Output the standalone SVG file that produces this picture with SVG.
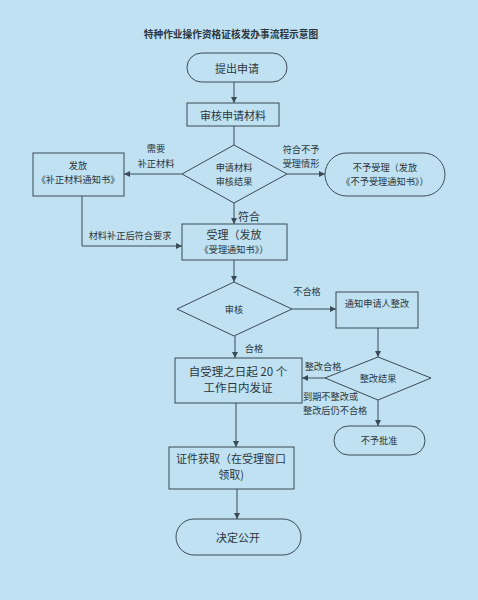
<svg xmlns="http://www.w3.org/2000/svg" width="478" height="600" viewBox="0 0 478 600">
<defs>
<marker id="ah" viewBox="0 0 10 10" refX="10" refY="5" markerWidth="6" markerHeight="6" orient="auto" markerUnits="userSpaceOnUse">
<path d="M0,0 L10,5 L0,10 z" fill="#3a4a56"/>
</marker>
</defs>
<style>
text{font-family:"Noto Sans CJK SC","Noto Sans",sans-serif;fill:#2b3640;text-anchor:middle;dominant-baseline:central}
.s{font-size:9.2px}
.m{font-size:11px}
.l{font-size:11.5px}
.t{font-size:9.7px;font-weight:bold}
.shape{fill:none;stroke:#3a4a56;stroke-width:1}
.c{fill:none;stroke:#3a4a56;stroke-width:1;marker-end:url(#ah)}
.c0{fill:none;stroke:#3a4a56;stroke-width:1}
.left{text-anchor:start}
</style>
<rect width="478" height="600" fill="#bfe1f1"/>
<text class="t" x="231" y="34">特种作业操作资格证核发办事流程示意图</text>

<g id="connectors">
<path class="c" d="M234,82 V103"/>
<path class="c0" d="M234,126 V145"/>
<path class="c" d="M182,174 H124"/>
<path class="c" d="M287,174 H325"/>
<path class="c" d="M234,203 V224"/>
<path class="c0" d="M82,196 V246"/>
<path class="c" d="M82,246 H182"/>
<path class="c" d="M234,260 V282"/>
<path class="c" d="M292,309 H336"/>
<path class="c" d="M235,336 V358"/>
<path class="c" d="M378,328 V357"/>
<path class="c" d="M325,378 H302"/>
<path class="c" d="M378,400 V426"/>
<path class="c" d="M236,403 V447"/>
<path class="c" d="M237,489 V519"/>
</g>

<g id="labels">
<text class="s" x="156" y="148">需要</text>
<text class="s" x="156" y="163">补正材料</text>
<text class="s" x="301" y="149">符合不予</text>
<text class="s" x="301" y="163">受理情形</text>
<text class="m" x="249" y="216">符合</text>
<text class="s" x="130" y="235">材料补正后符合要求</text>
<text class="s" x="307" y="291">不合格</text>
<text class="s" x="254" y="348">合格</text>
<text class="s" x="323" y="366">整改合格</text>
<text class="s left" x="303" y="396">到期不整改或</text>
<text class="s left" x="303" y="410">整改后仍不合格</text>
</g>

<g id="start">
<rect class="shape" x="187" y="53" width="100" height="29" rx="14.5"/>
<text class="m" x="237" y="68">提出申请</text>
</g>
<g id="review-materials">
<rect class="shape" x="187" y="103" width="92" height="23"/>
<text class="m" x="233" y="115">审核申请材料</text>
</g>
<g id="decision1">
<polygon class="shape" points="234,145 287,174 234,203 182,174"/>
<text class="s" x="234" y="167">申请材料</text>
<text class="s" x="234" y="181">审核结果</text>
</g>
<g id="supplement">
<rect class="shape" x="33" y="153" width="91" height="43"/>
<text class="s" x="78" y="165">发放</text>
<text class="s" x="78" y="179">《补正材料通知书》</text>
</g>
<g id="reject1">
<rect class="shape" x="325" y="153" width="120" height="43" rx="21.5"/>
<text class="s" x="385" y="167">不予受理（发放</text>
<text class="s" x="385" y="181">《不予受理通知书》）</text>
</g>
<g id="accept">
<rect class="shape" x="182" y="224" width="105" height="36"/>
<text class="m" x="234" y="234">受理（发放</text>
<text class="s" x="234" y="249">《受理通知书》）</text>
</g>
<g id="decision2">
<polygon class="shape" points="234,282 292,309 234,336 177,309"/>
<text class="s" x="234" y="309">审核</text>
</g>
<g id="notify">
<rect class="shape" x="336" y="292" width="82" height="36"/>
<text class="s" x="377" y="303">通知申请人整改</text>
</g>
<g id="decision3">
<polygon class="shape" points="378,357 431,378 378,400 325,378"/>
<text class="s" x="378" y="378">整改结果</text>
</g>
<g id="issue">
<rect class="shape" x="175" y="358" width="127" height="45"/>
<text class="l" x="238" y="371">自受理之日起 20 个</text>
<text class="l" x="238" y="387">工作日内发证</text>
</g>
<g id="reject2">
<rect class="shape" x="334" y="426" width="91" height="29" rx="14.5"/>
<text class="s" x="379" y="440">不予批准</text>
</g>
<g id="obtain">
<rect class="shape" x="169" y="447" width="125" height="42"/>
<text class="m" x="231" y="458">证件获取（在受理窗口</text>
<text class="m" x="231" y="474">领取)</text>
</g>
<g id="end">
<rect class="shape" x="176" y="519" width="125" height="36" rx="18"/>
<text class="m" x="238" y="537">决定公开</text>
</g>
</svg>
